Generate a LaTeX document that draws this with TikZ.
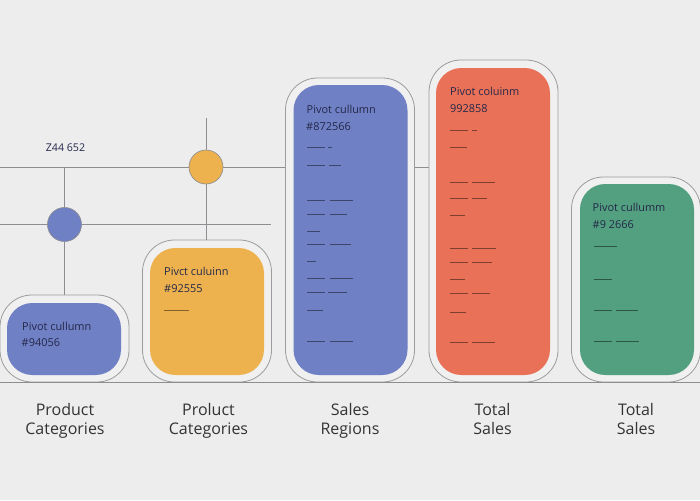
\documentclass[tikz,border=0pt]{standalone}
\usepackage{fontspec}
\setmainfont{Open Sans}
\definecolor{paper}{HTML}{EDEDED}
\definecolor{shelledge}{HTML}{9C9C9C}
\definecolor{wire}{HTML}{8E8E92}
\definecolor{ink}{HTML}{24284A}
\definecolor{barblue}{HTML}{6F80C4}
\definecolor{baryellow}{HTML}{EDB24E}
\definecolor{barred}{HTML}{E87158}
\definecolor{bargreen}{HTML}{52A07F}
\tikzset{
	shell/.style={draw=shelledge, fill=paper!85!white, line width=0.6pt, rounded corners=24pt, inner sep=0pt, minimum width=129*0.75pt},
	bar/.style={rounded corners=19pt, inner sep=0pt, minimum width=114*0.75pt},
	dot/.style={circle, draw=wire, line width=0.5pt, inner sep=0pt, minimum size=34*0.75pt},
	wireline/.style={draw=wire, line width=0.7pt},
	tick/.style={draw=black, draw opacity=0.45, line width=0.5pt},
	title/.style={anchor=west, text=ink, font=\fontsize{8.2}{10}\selectfont},
	caption/.style={anchor=base, align=center, text=black!80, font=\fontsize{12}{14.25}\selectfont}
}
\begin{document}
\begin{tikzpicture}[x=0.75pt,y=-0.75pt]
	\useasboundingbox (0,0) rectangle (700,500);
	\fill[paper] (0,0) rectangle (700,500);
	% shells
	\node[shell, minimum height=87*0.75pt] (shellA) at (64.5,338.5) {};
	\node[shell, minimum height=142*0.75pt] (shellB) at (207,311) {};
	\node[shell, minimum height=304*0.75pt] (shellC) at (350,230) {};
	\node[shell, minimum height=322*0.75pt] (shellD) at (493.5,221) {};
	\node[shell, minimum height=205*0.75pt] (shellE) at (636,279.5) {};
	% bars
	\node[bar, fill=barblue, minimum height=72*0.75pt] (barA) at (64,339) {};
	\node[bar, fill=baryellow, minimum height=127*0.75pt] (barB) at (207,311.5) {};
	\node[bar, fill=barblue, minimum height=290*0.75pt] (barC) at (350.5,230) {};
	\node[bar, fill=barred, minimum height=307*0.75pt] (barD) at (493,221.5) {};
	\node[bar, fill=bargreen, minimum height=191*0.75pt] (barE) at (637,279.5) {};
	% dots
	\node[dot, fill=barblue] (dotA) at (64.5,224.5) {};
	\node[dot, fill=baryellow] (dotB) at (206,167) {};
	% wires
	\coordinate (railT) at (0,167);
	\coordinate (railM) at (0,224.5);
	\coordinate (railB) at (0,382);
	\coordinate (railR) at (700,382);
	\coordinate (stubB) at (206,118);
	\coordinate (endM) at (271,224.5);
	\draw[wireline] (railT) -- (dotB);
	\draw[wireline] (dotB) -- (shellC.west |- dotB);
	\draw[wireline] (shellC.east |- dotB) -- (shellD.west |- dotB);
	\draw[wireline] (railM) -- (dotA);
	\draw[wireline] (dotA) -- (endM);
	\draw[wireline] (dotA) -- (dotA |- railT);
	\draw[wireline] (dotA) -- (shellA.north -| dotA);
	\draw[wireline] (stubB) -- (dotB);
	\draw[wireline] (dotB) -- (shellB.north -| dotB);
	\draw[wireline] (railB) -- (railR);
	% titles
	\node[text=ink, font=\fontsize{8}{9}\selectfont] (topnum) at (65.5,147.5) {Z44 652};
	\node[title] (titleA) at (17.5,326) {Pivot cullumn};
	\node[title] (codeA) at (17,343) {\#94056};
	\node[title] (titleB) at (159.5,271.5) {Pivct culuinn};
	\node[title] (codeB) at (159.5,289) {\#92555};
	\node[title] (titleC) at (302,109) {Pivot cullumn};
	\node[title] (codeC) at (301.5,126.5) {\#872566};
	\node[title] (titleD) at (445.5,91) {Pivot coluinm};
	\node[title] (codeD) at (445.5,108.5) {992858};
	\node[title] (titleE) at (588,207.5) {Pivot cullumm};
	\node[title] (codeE) at (588,224.5) {\#9 2666};
	% ticks
	\draw[tick] (164,310) -- (189,310);
	\foreach \y/\a/\b/\c in {147/325/328/332, 165/325/329/341, 200/325/330/353, 214/325/330/347, 231/320/320/320, 244/325/330/351, 261/316/316/316, 278/325/330/353, 292/325/328/347, 310/323/323/323, 341/325/330/353}{
		\draw[tick] (307,\y) -- (\a,\y);
		\draw[tick] (\b,\y) -- (\c,\y);
	}
	\foreach \y/\a/\b/\c in {130/468/472/477, 147/467/467/467, 182/468/472/495, 198/468/472/487, 215/465/465/465, 248/468/472/496, 262/468/472/492, 279/465/465/465, 293/468/472/490, 312/466/466/466, 342/468/472/495}{
		\draw[tick] (450,\y) -- (\a,\y);
		\draw[tick] (\b,\y) -- (\c,\y);
	}
	\foreach \y/\a/\b/\c in {246/617/617/617, 279/612/612/612, 310/612/616/638, 341/612/616/639}{
		\draw[tick] (594,\y) -- (\a,\y);
		\draw[tick] (\b,\y) -- (\c,\y);
	}
	% captions
	\node[caption] (capA) at (65,434) {Product\\Categories};
	\node[caption] (capB) at (208.5,434) {Proluct\\Categories};
	\node[caption] (capC) at (350,434) {Sales\\Regions};
	\node[caption] (capD) at (492.5,434) {Total\\Sales};
	\node[caption] (capE) at (636,434) {Total\\Sales};
\end{tikzpicture}
\end{document}
